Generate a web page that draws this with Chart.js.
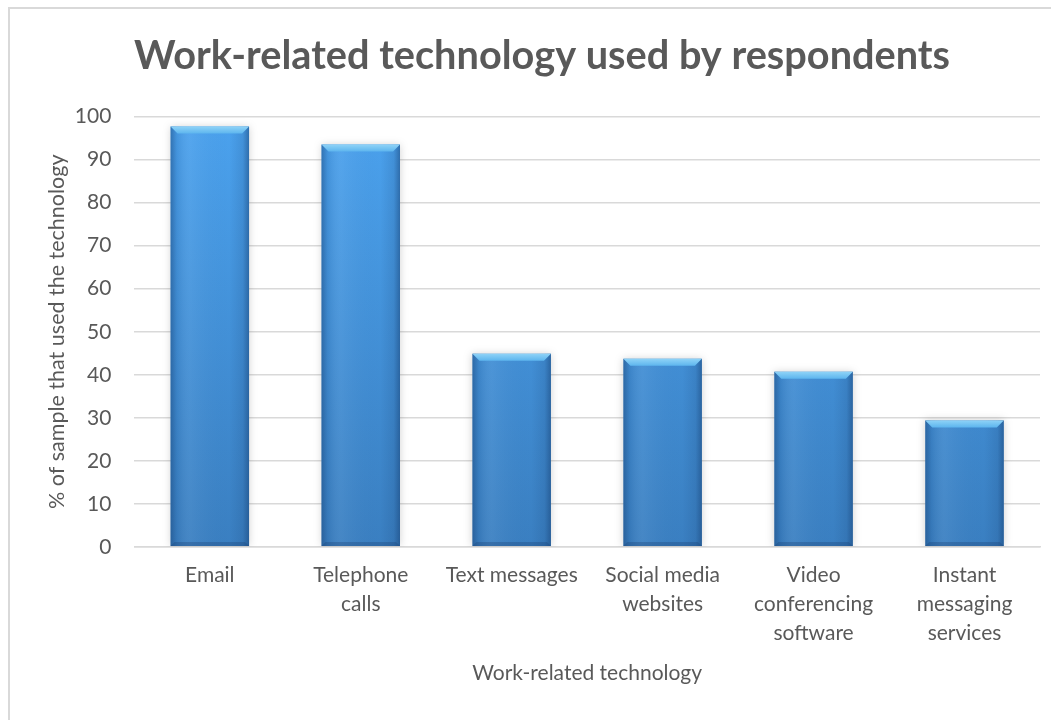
<!DOCTYPE html>
<html>
<head>
<meta charset="utf-8">
<script src="https://cdn.jsdelivr.net/npm/chart.js@4.4.1/dist/chart.umd.min.js"></script>
<style>
  html, body { margin: 0; padding: 0; background: #fff; overflow: hidden; }
  #frame { position: absolute; left: 8px; top: 7px; width: 1100px; height: 800px;
           border-left: 2px solid #d9d9d9; border-top: 2px solid #d9d9d9; }
  #wrap { position: absolute; left: 0; top: 0; width: 1051px; height: 720px; }
</style>
</head>
<body>
<div id="frame"></div>
<div id="wrap"><canvas id="c" width="1051" height="720"></canvas></div>
<script>
const titleText = "Work-related technology used by respondents";
const categories = [
  "Email",
  ["Telephone", "calls"],
  "Text messages",
  ["Social media", "websites"],
  ["Video", "conferencing", "software"],
  ["Instant", "messaging", "services"]
];
const usagePercent = [97.7, 93.5, 44.9, 43.7, 40.7, 29.4];
const yTitle = "% of sample that used the technology";
const xTitle = "Work-related technology";

const FONT = "Lato, 'Open Sans', sans-serif";
const TEXT = "#595959";

const barStyle = {
  id: "barStyle",
  beforeDatasetDraw(chart) {
    const ctx = chart.ctx;
    ctx.save();
    ctx.shadowColor = "rgba(0,0,0,0.18)";
    ctx.shadowBlur = 8;
  },
  afterDatasetDraw(chart) {
    const ctx = chart.ctx;
    ctx.restore();
    const meta = chart.getDatasetMeta(0);
    meta.data.forEach(el => {
      const p = el.getProps(["x", "y", "base", "width"], true);
      const l = p.x - p.width / 2, r = p.x + p.width / 2, t = p.y, b = p.base, w = p.width;
      ctx.save();
      const g = ctx.createLinearGradient(l, 0, r, 0);
      g.addColorStop(0, "rgba(20,60,110,0.45)");
      g.addColorStop(0.08, "rgba(20,60,110,0.12)");
      g.addColorStop(0.25, "rgba(255,255,255,0.06)");
      g.addColorStop(0.75, "rgba(20,60,110,0.0)");
      g.addColorStop(0.92, "rgba(20,60,110,0.15)");
      g.addColorStop(1, "rgba(20,60,110,0.5)");
      ctx.fillStyle = g;
      ctx.fillRect(l, t, w, b - t);
      const bv = 7;
      ctx.beginPath();
      ctx.moveTo(l, t); ctx.lineTo(r, t); ctx.lineTo(r - bv, t + bv); ctx.lineTo(l + bv, t + bv); ctx.closePath();
      const tg = ctx.createLinearGradient(0, t, 0, t + bv);
      tg.addColorStop(0, "#8fd3f7");
      tg.addColorStop(1, "#5db5ee");
      ctx.fillStyle = tg;
      ctx.fill();
      ctx.beginPath();
      ctx.moveTo(l, b); ctx.lineTo(r, b); ctx.lineTo(r - 4, b - 4); ctx.lineTo(l + 4, b - 4); ctx.closePath();
      ctx.fillStyle = "rgba(30,70,120,0.35)";
      ctx.fill();
      ctx.restore();
    });
  }
};

const ctx = document.getElementById("c").getContext("2d");
new Chart(ctx, {
  type: "bar",
  data: {
    labels: categories,
    datasets: [{
      data: usagePercent,
      backgroundColor: (c) => {
        const a = c.chart.chartArea;
        if (!a) return "#4695dc";
        const g = c.chart.ctx.createLinearGradient(0, a.top, 0, a.bottom);
        g.addColorStop(0, "#4ba2ee");
        g.addColorStop(1, "#3a7fc1");
        return g;
      },
      borderWidth: 0,
      categoryPercentage: 1,
      barPercentage: 0.52
    }]
  },
  options: {
    responsive: false,
    animation: false,
    devicePixelRatio: 1,
    layout: { padding: { left: 44, right: 11, top: 32, bottom: 30 } },
    plugins: {
      legend: { display: false },
      tooltip: { enabled: false },
      title: {
        display: true,
        text: titleText,
        color: TEXT,
        font: { family: FONT, size: 39.7, weight: "bold" },
        padding: { top: 0, bottom: 37 }
      }
    },
    scales: {
      y: {
        min: 0, max: 100,
        ticks: { stepSize: 10, color: TEXT, font: { family: FONT, size: 21 }, padding: 23 },
        grid: { color: "#d9d9d9", lineWidth: 1.5, drawTicks: false },
        border: { display: false },
        title: { display: true, text: yTitle, color: TEXT, font: { family: FONT, size: 21.5 }, padding: { top: 0, bottom: -18 } }
      },
      x: {
        ticks: { color: TEXT, font: { family: FONT, size: 21, lineHeight: 1.38 }, padding: 14, maxRotation: 0, autoSkip: false },
        grid: { display: false, drawTicks: false },
        border: { display: true, color: "#d9d9d9", width: 1.5 },
        title: { display: true, text: xTitle, color: TEXT, font: { family: FONT, size: 21 }, padding: { top: -1 } }
      }
    }
  },
  plugins: [barStyle]
});
</script>
</body>
</html>
